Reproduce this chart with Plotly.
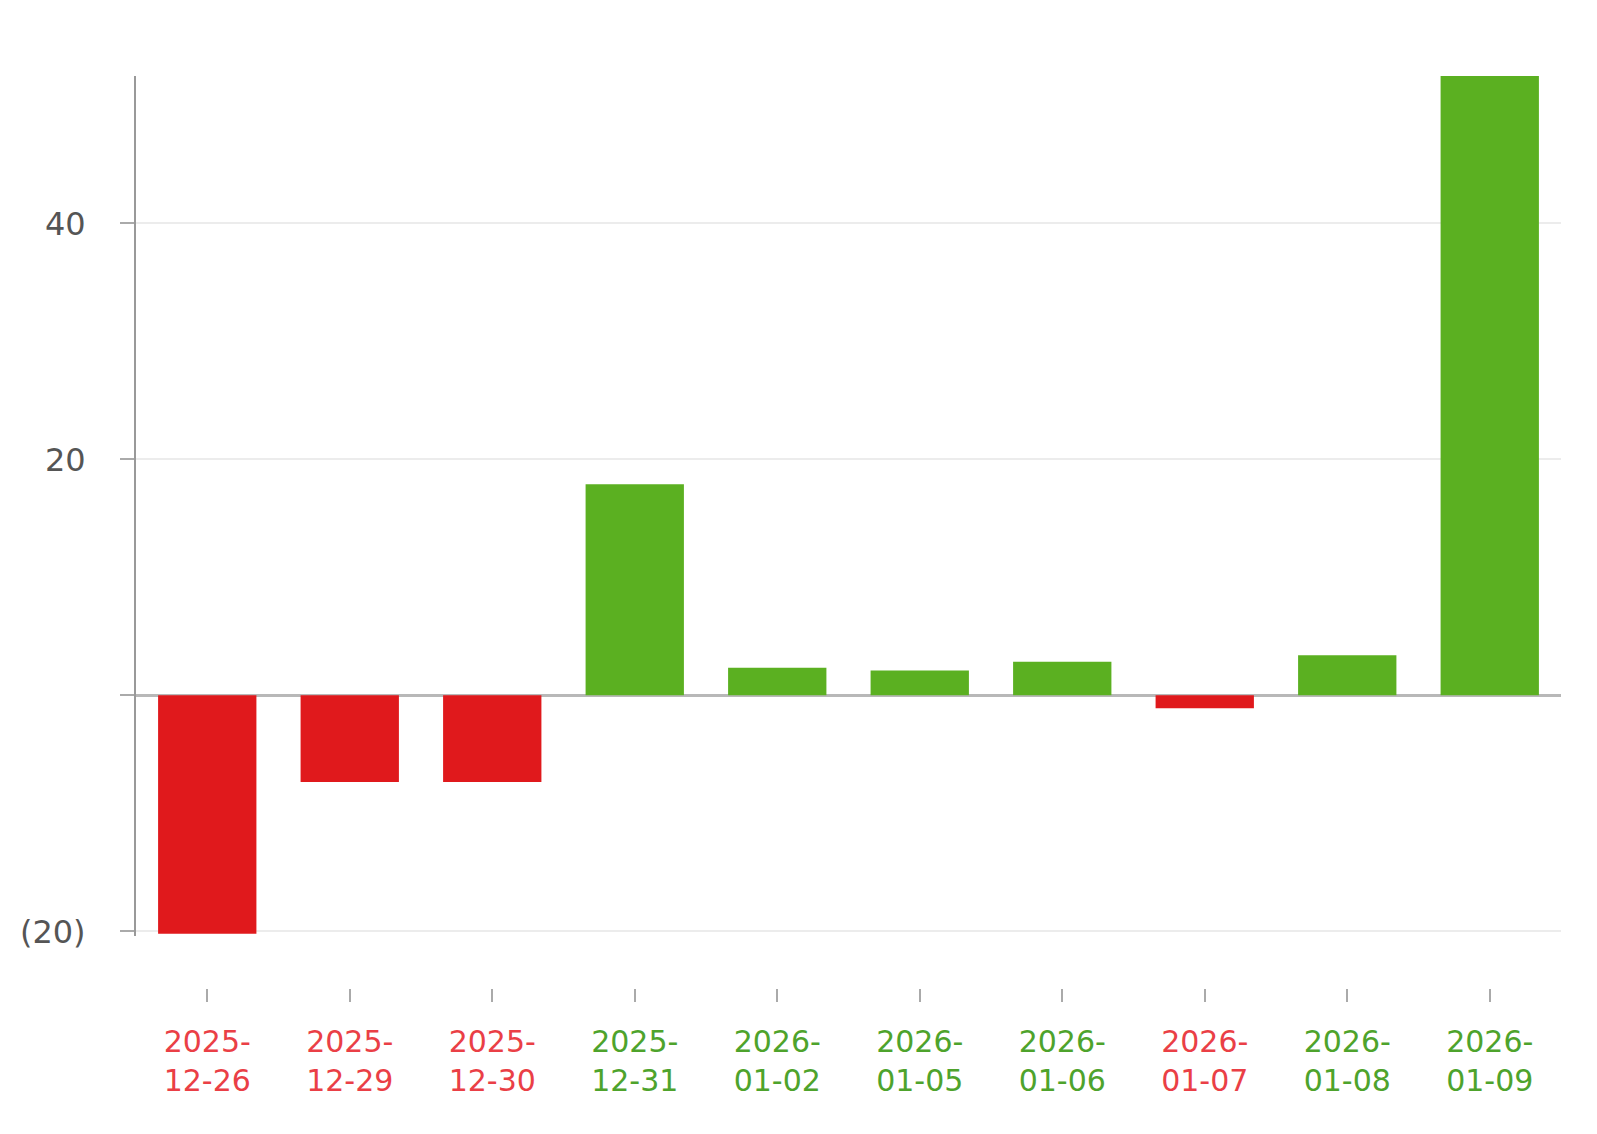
import plotly.graph_objects as go

dates = ["2025-12-26", "2025-12-29", "2025-12-30", "2025-12-31", "2026-01-02",
         "2026-01-05", "2026-01-06", "2026-01-07", "2026-01-08", "2026-01-09"]
values = [-20.2, -7.35, -7.35, 17.9, 2.35, 2.1, 2.85, -1.1, 3.4, 52.5]

y_ticks = [-20, 0, 20, 40]
y_labels = ["(20)", "", "20", "40"]

RED = "#e0191c"
GREEN = "#5bb021"
RED_TXT = "#ea3f46"
GREEN_TXT = "#4ea32c"

bar_colors = [RED if v < 0 else GREEN for v in values]


def tick_label(d, v):
    c = RED_TXT if v < 0 else GREEN_TXT
    top, bottom = d[:5], d[5:]
    return (f"<span style='color:{c}'>{top}</span><br>"
            f"<span style='color:{c}'>{bottom}</span>")


fig = go.Figure()
fig.add_trace(go.Bar(x=dates,
                     y=values,
                     marker=dict(color=bar_colors, line=dict(width=0)),
                     hoverinfo='x+y'))

fig.update_layout(
    width=1597, height=1134,
    margin=dict(l=126, r=44, t=68, b=154),
    plot_bgcolor='white', paper_bgcolor='white',
    bargap=0.31,
    showlegend=False,
    font=dict(family="DejaVu Sans", size=32, color="#555555"),
)

fig.update_xaxes(
    type='category',
    tickvals=dates,
    ticktext=[tick_label(d, v) for d, v in zip(dates, values)],
    anchor='free', position=0,
    showline=False, showgrid=False, zeroline=False,
    ticks='outside', ticklen=13, tickwidth=2, tickcolor='#aaaaaa',
    ticklabelstandoff=14,
    tickfont=dict(size=30),
)

fig.update_yaxes(
    domain=[0.057, 1],
    range=[-20.4, 52.5],
    tickvals=y_ticks, ticktext=y_labels,
    showline=True, linecolor='#999999', linewidth=2,
    showgrid=True, gridcolor='#ececec', gridwidth=2,
    zeroline=True, zerolinecolor='#b8b8b8', zerolinewidth=3,
    ticks='outside', ticklen=14, tickwidth=2, tickcolor='#aaaaaa',
    ticklabelstandoff=28,
    tickfont=dict(size=32, color='#555555'),
)

fig.write_html("out.html")
